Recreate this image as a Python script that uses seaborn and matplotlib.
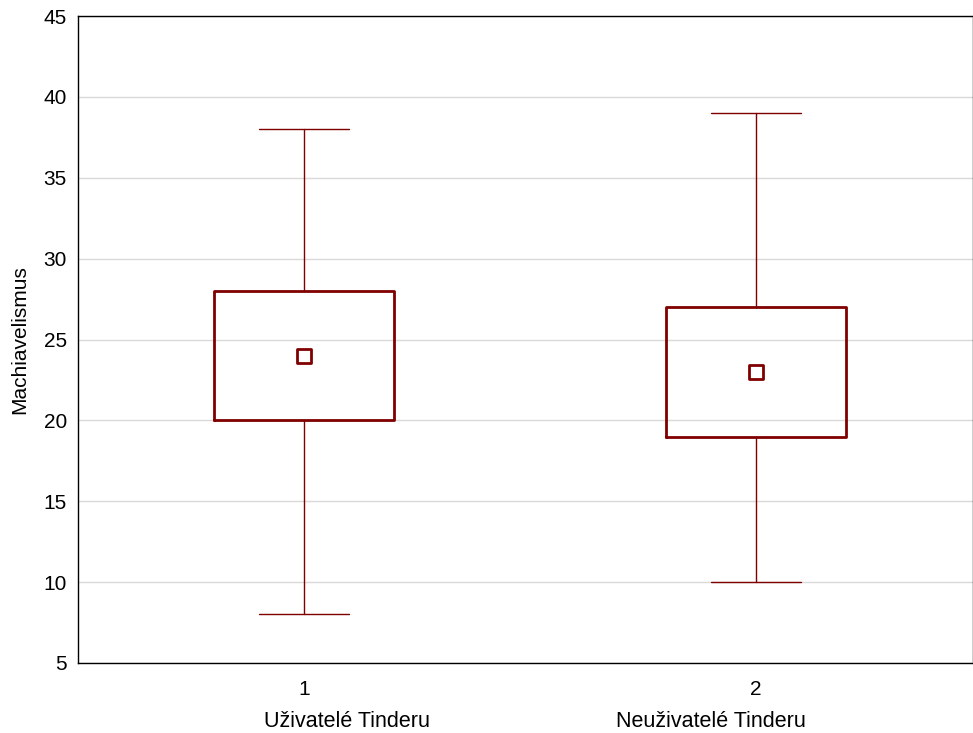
import numpy as np
import pandas as pd
import matplotlib
matplotlib.use("Agg")
import matplotlib.pyplot as plt
import seaborn as sns

# =====================================================
# DATA
# =====================================================

groups = [1, 2]
group_names = ["Uživatelé Tinderu", "Neuživatelé Tinderu"]
minimum = [8, 10]
q1 = [20, 19]
median = [24, 23]
q3 = [28, 27]
maximum = [38, 39]

df = pd.DataFrame({
    "group": groups,
    "median": median,
})

# =====================================================
# STYLE
# =====================================================

sns.set_style("white")
plt.rcParams["font.family"] = ["Liberation Sans", "DejaVu Sans"]
plt.rcParams["text.color"] = "black"
plt.rcParams["axes.labelcolor"] = "black"

red = "#800000"

fig = plt.figure(figsize=(9.73, 7.33), dpi=100)
ax = fig.add_axes([78 / 973, 1 - 663 / 733, 1 - 78 / 973, (663 - 16) / 733])

# =====================================================
# BOXES (median / quartiles / min-max)
# =====================================================

stats = []
for i in range(len(groups)):
    stats.append({
        "med": median[i],
        "q1": q1[i],
        "q3": q3[i],
        "whislo": minimum[i],
        "whishi": maximum[i],
        "fliers": [],
    })

ax.bxp(
    stats,
    positions=groups,
    widths=0.4,
    showfliers=False,
    boxprops=dict(color=red, linewidth=2),
    whiskerprops=dict(color=red, linewidth=1),
    capprops=dict(color=red, linewidth=1),
    medianprops=dict(linewidth=0),
    capwidths=0.2,
    zorder=3,
)

sns.scatterplot(
    data=df,
    x="group",
    y="median",
    marker="s",
    s=110,
    facecolor="white",
    edgecolor=red,
    linewidth=2,
    zorder=4,
    ax=ax,
)

# =====================================================
# AXES
# =====================================================

ax.set_xlim(0.5, 2.48)
ax.set_ylim(5, 45)
ax.set_yticks(np.arange(5, 46, 5))
ax.set_xticks(groups)
ax.set_xticklabels([str(g) for g in groups])
ax.yaxis.grid(True, color="#d9d9d9", linewidth=1)
ax.set_axisbelow(True)

for side in ["left", "bottom", "top", "right"]:
    ax.spines[side].set_color("black")
    ax.spines[side].set_linewidth(1)

ax.tick_params(axis="both", direction="in", length=4, width=1,
               colors="black", labelsize=15)
ax.tick_params(axis="y", pad=8)
ax.tick_params(axis="x", pad=12)

ax.set_xlabel("")
ax.set_ylabel("Machiavelismus", fontsize=15, color="black")
ax.yaxis.set_label_coords(-0.055, 0.5)

# group names sit a bit off the ticks, as in the original export
name_offset = [0.095, -0.1]
for g, name, off in zip(groups, group_names, name_offset):
    ax.text(g + off, -0.09, name, transform=ax.get_xaxis_transform(),
            ha="center", va="center", fontsize=15.5, color="black")

fig.savefig("out.png", dpi=100)
